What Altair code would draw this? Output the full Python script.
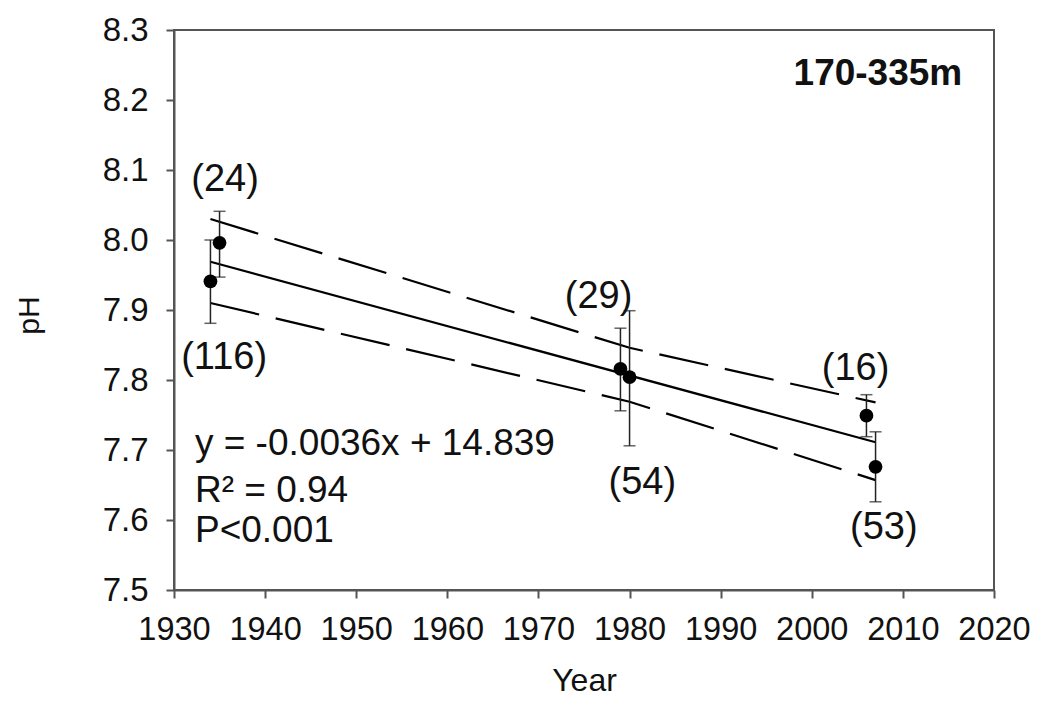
import altair as alt
import pandas as pd

# Observations (mean pH with error bars)
years = [1934, 1935, 1979, 1980, 2006, 2007]
ph = [7.941, 7.996, 7.816, 7.804, 7.749, 7.676]
ph_lo = [7.881, 7.947, 7.756, 7.706, 7.719, 7.626]
ph_hi = [8.000, 8.041, 7.874, 7.899, 7.779, 7.726]

# Regression line and confidence band
fit_years = [1934, 2007]
fit_ph = [7.969, 7.711]
band_years = [1934, 1980, 2007]
band_upper = [8.030, 7.846, 7.768]
band_lower = [7.910, 7.769, 7.657]

# Sample-size labels
n_labels = ["(24)", "(116)", "(29)", "(54)", "(16)", "(53)"]
n_x = [1935.6, 1935.5, 1976.6, 1981.4, 2004.8, 2007.9]
n_y = [8.086, 7.831, 7.919, 7.653, 7.816, 7.589]

# Equation text
eq_lines = ["y = -0.0036x + 14.839", "R² = 0.94", "P<0.001"]
eq_x = [1932.3, 1932.3, 1932.3]
eq_y = [7.693, 7.626, 7.569]

depth_label = "170-335m"
depth_x = 1998.0
depth_y = 8.221

FONT = "Liberation Sans"

obs = pd.DataFrame({"year": years, "ph": ph, "lo": ph_lo, "hi": ph_hi})
fit = pd.DataFrame({"year": fit_years, "ph": fit_ph})
band = pd.concat([
    pd.DataFrame({"year": band_years, "ph": band_upper, "side": "upper"}),
    pd.DataFrame({"year": band_years, "ph": band_lower, "side": "lower"}),
])
nlab = pd.DataFrame({"label": n_labels, "x": n_x, "y": n_y})
eq = pd.DataFrame({"label": eq_lines, "x": eq_x, "y": eq_y})
dep = pd.DataFrame({"label": [depth_label], "x": [depth_x], "y": [depth_y]})

xscale = alt.Scale(domain=[1930, 2020], nice=False, zero=False)
yscale = alt.Scale(domain=[7.5, 8.3], nice=False, zero=False)

xaxis = alt.Axis(
    title="Year", values=list(range(1930, 2021, 10)), format="d",
    labelFontSize=32.5, labelFont=FONT, labelColor="#111", labelPadding=15,
    labelOverlap=False, labelBound=False, labelFlush=False,
    tickSize=8, tickColor="#555", tickWidth=2, domainColor="#555", domainWidth=2,
    grid=False, titleFont=FONT, titleFontSize=32, titleFontWeight="normal",
    titleColor="#111", titleY=100, titleBaseline="alphabetic",
)
yaxis = alt.Axis(
    title="pH", values=[7.5 + 0.1 * i for i in range(9)], format=".1f",
    labelFontSize=33, labelFont=FONT, labelColor="#111", labelPadding=18,
    labelOverlap=False, labelBound=False, labelFlush=False,
    tickSize=8, tickColor="#555", tickWidth=2, domainColor="#555", domainWidth=2,
    grid=False, titleFont=FONT, titleFontSize=30, titleFontWeight="normal",
    titleColor="#111", titleX=-145, titleY=285, titleBaseline="middle",
)

X = alt.X("year:Q", scale=xscale, axis=xaxis)
Y = alt.Y("ph:Q", scale=yscale, axis=yaxis)

bars = alt.Chart(obs).mark_rule(color="#222", strokeWidth=1.5).encode(
    x=X, y=alt.Y("lo:Q", scale=yscale, axis=yaxis), y2="hi:Q")
caps_lo = alt.Chart(obs).mark_tick(color="#222", orient="horizontal", size=12, thickness=1.5).encode(
    x=alt.X("year:Q", scale=xscale), y=alt.Y("lo:Q", scale=yscale))
caps_hi = alt.Chart(obs).mark_tick(color="#222", orient="horizontal", size=12, thickness=1.5).encode(
    x=alt.X("year:Q", scale=xscale), y=alt.Y("hi:Q", scale=yscale))
pts = alt.Chart(obs).mark_point(filled=True, color="black", size=190, opacity=1).encode(x=X, y=Y)

fitline = alt.Chart(fit).mark_line(color="black", strokeWidth=2.2).encode(x=X, y=Y)
bandlines = alt.Chart(band).mark_line(color="black", strokeWidth=2.2, strokeDash=[50, 17]).encode(
    x=X, y=Y, detail="side:N")

nlabels = alt.Chart(nlab).mark_text(font=FONT, fontSize=38, color="#111", align="center",
                                    baseline="middle").encode(
    x=alt.X("x:Q", scale=xscale), y=alt.Y("y:Q", scale=yscale), text="label:N")
eqtext = alt.Chart(eq).mark_text(font=FONT, fontSize=37, color="#111", align="left",
                                 baseline="alphabetic").encode(
    x=alt.X("x:Q", scale=xscale), y=alt.Y("y:Q", scale=yscale), text="label:N")
deptext = alt.Chart(dep).mark_text(font=FONT, fontSize=37, fontWeight="bold", color="#111",
                                   align="left", baseline="alphabetic").encode(
    x=alt.X("x:Q", scale=xscale), y=alt.Y("y:Q", scale=yscale), text="label:N")

chart = alt.layer(
    bandlines, fitline, bars, caps_lo, caps_hi, pts, nlabels, eqtext, deptext
).properties(
    width=820, height=560,
    autosize=alt.AutoSizeParams(type="none"),
    padding={"left": 166, "top": 22, "right": 38, "bottom": 110},
    background="white",
).configure_view(stroke="#555", strokeWidth=2)

chart.save("out.html", embed_options={"renderer": "svg", "actions": False})
